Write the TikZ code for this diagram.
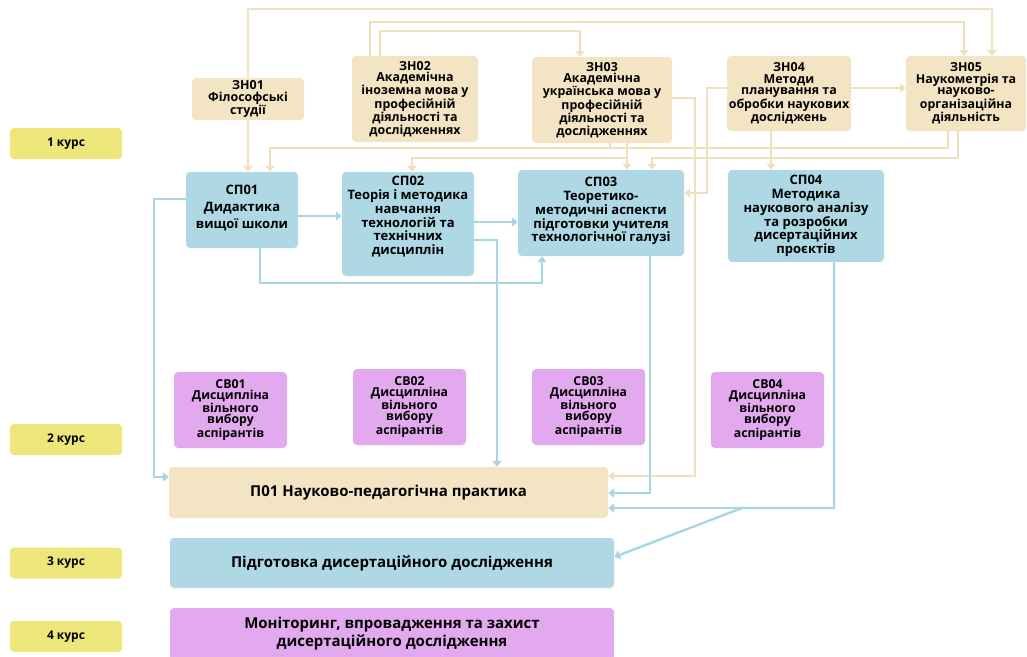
\documentclass[tikz,border=0pt]{standalone}
\usepackage{fontspec}
\setmainfont{Open Sans}
\usetikzlibrary{arrows.meta}
\definecolor{tanbox}{HTML}{F3E5C4}
\definecolor{tanline}{HTML}{F1E1B8}
\definecolor{bluebox}{HTML}{ADD8E4}
\definecolor{blueline}{HTML}{A8D6E4}
\definecolor{purplebox}{HTML}{E2A9EE}
\definecolor{yellowbox}{HTML}{EDE67A}
\begin{document}
\begin{tikzpicture}[x=1pt,y=-1pt,
  box/.style={rounded corners=4pt, inner sep=0pt, align=center, font=\bfseries},
  zn/.style={box, fill=tanbox, font=\bfseries\fontsize{12.4}{11.4}\selectfont},
  sp/.style={box, fill=bluebox, font=\bfseries\fontsize{13}{13.8}\selectfont},
  sv/.style={box, fill=purplebox, minimum width=113pt, minimum height=76pt, font=\bfseries\fontsize{12.3}{11}\selectfont},
  kurs/.style={box, fill=yellowbox, minimum width=112pt, minimum height=31pt, font=\bfseries\fontsize{12}{13}\selectfont},
  big/.style={box, font=\bfseries\fontsize{15}{18}\selectfont},
  conn/.style={line width=2.4pt, -{Triangle[width=9pt,length=6pt]}},
  tl/.style={conn, draw=tanline},
  bl/.style={conn, draw=blueline},
]
\useasboundingbox (0,0) rectangle (1027,656);

% course labels
\node[kurs] (k1) at (66,143.5) {1 курс};
\node[kurs] (k2) at (66,439.5) {2 курс};
\node[kurs] (k3) at (66,563) {3 курс};
\node[kurs] (k4) at (66,636.5) {4 курс};

% tan connectors along the top (drawn under boxes)
\draw[tl] (248,78) -- (248,9) -- (992,9) -- (992,56);
\draw[tl] (370,56) -- (370,22) -- (964,22) -- (964,56);
\draw[tl] (380,56) -- (380,31) -- (580,31) -- (580,57);

% ZN row
\node[zn, minimum width=112pt, minimum height=42pt] (zn01) at (248,99) {ЗН01\\Філософські\\студії};
\node[zn, minimum width=126pt, minimum height=86pt] (zn02) at (415,99) {ЗН02\\Академічна\\іноземна мова у\\професійній\\діяльності та\\дослідженнях};
\node[zn, minimum width=140pt, minimum height=86pt] (zn03) at (602,100) {ЗН03\\Академічна\\українська мова у\\професійній\\діяльності та\\дослідженнях};
\node[zn, minimum width=124pt, minimum height=75pt] (zn04) at (789,93.5) {ЗН04\\Методи\\планування та\\обробки наукових\\досліджень};
\node[zn, minimum width=120pt, minimum height=75pt] (zn05) at (966,93.5) {ЗН05\\Наукометрія та\\науково-\\організаційна\\діяльність};

% SP row
\node[sp, minimum width=112pt, minimum height=76pt, text depth=7pt, font=\bfseries\fontsize{13}{17}\selectfont] (sp01) at (242,210) {СП01\\Дидактика\\вищої школи};
\node[sp, minimum width=132pt, minimum height=104pt, text depth=17pt] (sp02) at (408,224) {СП02\\Теорія і методика\\навчання\\технологій та\\технічних\\дисциплін};
\node[sp, minimum width=166pt, minimum height=86pt, text depth=7pt] (sp03) at (601,213) {СП03\\Теоретико-\\методичні аспекти\\підготовки учителя\\технологічної галузі};
\node[sp, minimum width=156pt, minimum height=92pt] (sp04) at (806,216) {СП04\\Методика\\наукового аналізу\\та розробки\\дисертаційних\\проєктів};

% SV row
\node[sv] (sv01) at (230.5,410) {СВ01\\Дисципліна\\вільного\\вибору\\аспірантів};
\node[sv] (sv02) at (409.5,407) {СВ02\\Дисципліна\\вільного\\вибору\\аспірантів};
\node[sv] (sv03) at (588.5,407) {СВ03\\Дисципліна\\вільного\\вибору\\аспірантів};
\node[sv] (sv04) at (767.5,410) {СВ04\\Дисципліна\\вільного\\вибору\\аспірантів};

% bottom boxes
\node[big, fill=tanbox, minimum width=439pt, minimum height=51pt] (p01) at (388.5,492.5) {П01 Науково-педагогічна практика};
\node[big, fill=bluebox, minimum width=444pt, minimum height=50pt] (pd) at (392,563) {Підготовка дисертаційного дослідження};
\node[big, fill=purplebox, minimum width=444pt, minimum height=52pt] (mon) at (392,634) {Моніторинг, впровадження та захист\\дисертаційного дослідження};

% tan connectors between nodes
\draw[tl] (zn01.south) -- (zn01.south |- sp01.north);
\draw[tl] (zn04.east |- 0,88) -- (zn05.west |- 0,88);
\draw[tl] (771,0 |- zn04.south) -- (771,0 |- sp04.north);
\draw[tl] (zn04.west |- 0,88) -- (707,88) -- (707,193) -- (sp03.east |- 0,193);
\draw[tl] (zn03.east |- 0,98) -- (695,98) -- (695,476) -- (p01.east |- 0,476);
\draw[tl] (948,0 |- zn05.south) -- (948,148) -- (270,148) -- (270,0 |- sp01.north);
\draw[tl] (610,0 |- zn03.south) -- (610,148) -- (270,148) -- (270,0 |- sp01.north);
\draw[tl] (627,0 |- zn03.south) -- (627,0 |- sp03.north);
\draw[tl] (627,0 |- zn03.south) -- (627,158) -- (412,158) -- (412,0 |- sp02.north);
\draw[tl] (958,0 |- zn05.south) -- (958,158) -- (652,158) -- (652,0 |- sp03.north);

% blue connectors
\draw[bl] (sp01.east |- 0,216) -- (sp02.west |- 0,216);
\draw[bl] (sp02.east |- 0,222) -- (sp03.west |- 0,222);
\draw[bl] (260,0 |- sp01.south) -- (260,283) -- (542,283) -- (542,0 |- sp03.south);
\draw[bl] (sp01.west |- 0,199) -- (154,199) -- (154,477) -- (p01.west |- 0,477);
\draw[bl] (sp02.east |- 0,240) -- (497,240) -- (497,0 |- p01.north);
\draw[bl] (650,0 |- sp03.south) -- (650,493) -- (p01.east |- 0,493);
\draw[bl] (834,0 |- sp04.south) -- (834,508) -- (p01.east |- 0,508);
\draw[bl] (834,0 |- sp04.south) -- (834,508) -- (742,508) -- (pd.east |- 0,557);
\end{tikzpicture}
\end{document}
